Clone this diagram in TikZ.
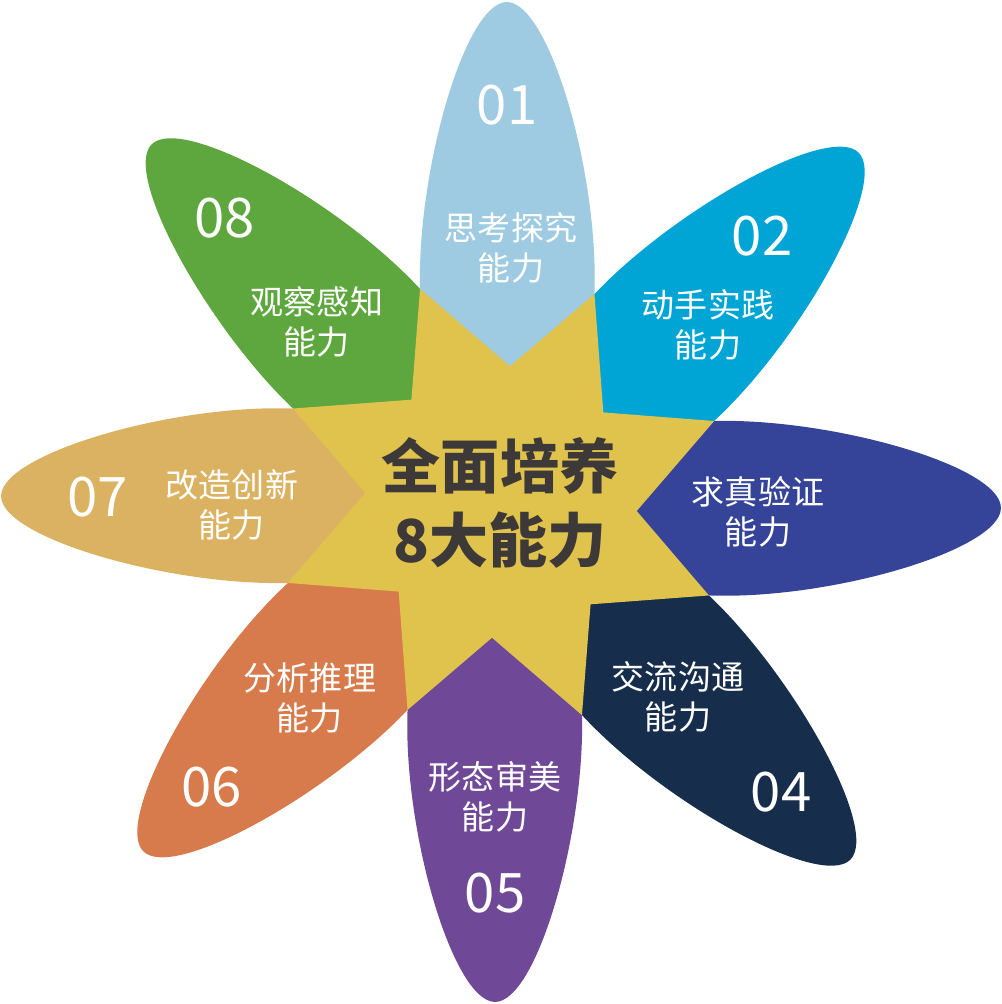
\documentclass[tikz,border=0pt]{standalone}
\usepackage{fontspec}
\setmainfont{Noto Sans CJK SC}
\usepackage{tikz}
\definecolor{pet01}{RGB}{158,202,226}
\definecolor{pet02}{RGB}{0,165,213}
\definecolor{pet03}{RGB}{53,68,152}
\definecolor{pet04}{RGB}{22,45,76}
\definecolor{pet05}{RGB}{111,73,151}
\definecolor{pet06}{RGB}{216,123,76}
\definecolor{pet07}{RGB}{219,178,98}
\definecolor{pet08}{RGB}{94,167,62}
\definecolor{starfill}{RGB}{224,195,77}
\definecolor{centertext}{RGB}{62,57,57}

\begin{document}
\begin{tikzpicture}[x=0.1mm,y=0.1mm,
  num/.style={text=white,inner sep=0pt,font=\fontsize{15.5}{18}\selectfont},
  lbl/.style={text=white,inner sep=0pt,align=center,font=\fontsize{9.4}{11.4}\selectfont},
  petal/.style={draw=none}]
\useasboundingbox (-501,-502) rectangle (501,502);
% petals, each one in its own rotated frame
\fill[pet01,rotate=89.3] (209.1,-90.9) .. controls (330,-94) and (500,-42) .. (500,0) .. controls (500,42) and (330,88) .. (212.1,83.6) -- (0,0) -- cycle;
\fill[pet02,rotate=44.3] (209.1,-90.9) .. controls (330,-94) and (500,-42) .. (500,0) .. controls (500,42) and (330,88) .. (212.1,83.6) -- (0,0) -- cycle;
\fill[pet03,rotate=-0.7] (209.1,-90.9) .. controls (330,-94) and (500,-42) .. (500,0) .. controls (500,42) and (330,88) .. (212.1,83.6) -- (0,0) -- cycle;
\fill[pet04,rotate=-45.7] (209.1,-90.9) .. controls (330,-94) and (500,-42) .. (500,0) .. controls (500,42) and (330,88) .. (212.1,83.6) -- (0,0) -- cycle;
\fill[pet05,rotate=-90.7] (209.1,-90.9) .. controls (330,-94) and (500,-42) .. (500,0) .. controls (500,42) and (330,88) .. (212.1,83.6) -- (0,0) -- cycle;
\fill[pet06,rotate=-135.7] (209.1,-90.9) .. controls (330,-94) and (500,-42) .. (500,0) .. controls (500,42) and (330,88) .. (212.1,83.6) -- (0,0) -- cycle;
\fill[pet07,rotate=179.3] (209.1,-90.9) .. controls (330,-94) and (500,-42) .. (500,0) .. controls (500,42) and (330,88) .. (212.1,83.6) -- (0,0) -- cycle;
\fill[pet08,rotate=134.3] (209.1,-90.9) .. controls (330,-94) and (500,-42) .. (500,0) .. controls (500,42) and (330,88) .. (212.1,83.6) -- (0,0) -- cycle;
% the star in the middle
\fill[starfill] (110.8:228) -- (86.2:136) -- (65.8:228) -- (41.2:136) -- (20.8:228) -- (-3.8:136)
  -- (-24.2:228) -- (-48.8:136) -- (-69.2:228) -- (-93.8:136) -- (-114.2:228) -- (-138.8:136)
  -- (-159.2:228) -- (176.2:136) -- (155.8:228) -- (131.2:136) -- cycle;
% numbers
\node[num] (n01) at (6,397) {01};
\node[num] (n02) at (261,266) {02};
\node[num] (n04) at (280,-290) {04};
\node[num] (n05) at (-6,-391) {05};
\node[num] (n06) at (-289,-285) {06};
\node[num] (n07) at (-403,5) {07};
\node[num] (n08) at (-276,284) {08};
% labels
\node[lbl] (t01) at (10,254) {思考探究\\能力};
\node[lbl] (t02) at (207,177) {动手实践\\能力};
\node[lbl] (t03) at (257,-10) {求真验证\\能力};
\node[lbl] (t04) at (177,-195) {交流沟通\\能力};
\node[lbl] (t05) at (-6,-295) {形态审美\\能力};
\node[lbl] (t06) at (-191,-196) {分析推理\\能力};
\node[lbl] (t07) at (-269,-3) {改造创新\\能力};
\node[lbl] (t08) at (-184,180) {观察感知\\能力};
\node[text=centertext,inner sep=0pt,align=center,font=\fontsize{16.8}{21}\selectfont\bfseries] (hub) at (-1,-1) {全面培养\\8大能力};
\end{tikzpicture}
\end{document}
